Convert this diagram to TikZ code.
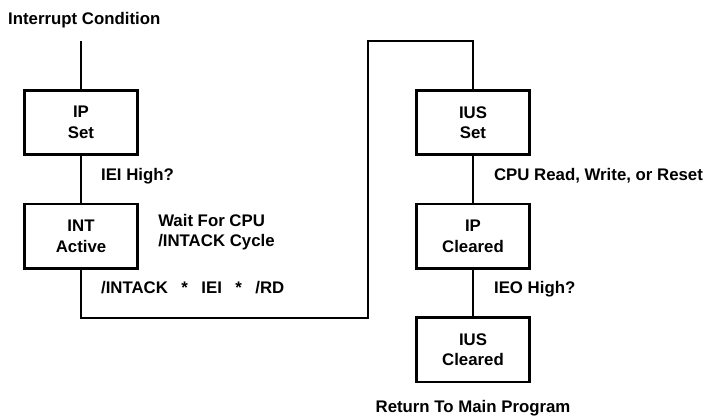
\documentclass[tikz,border=0pt]{standalone}
\usepackage{fontspec}
\setmainfont{Liberation Sans}
\usepackage{tikz}
\usetikzlibrary{positioning}

\begin{document}
\begin{tikzpicture}[
  x=1pt, y=1pt,
  node distance=46.5pt,
  font=\fontsize{16.8}{20.5}\selectfont\bfseries,
  box/.style={draw, line width=2.6pt, minimum width=113.5pt, minimum height=64.5pt,
              align=center, inner sep=2pt},
  lbl/.style={inner sep=0pt, align=left},
  tag/.style={lbl, anchor=west, xshift=19pt, yshift=3.5pt},
  wire/.style={line width=2.2pt}
]
\useasboundingbox (0,0) rectangle (712,417);

\node[lbl, anchor=west] (cond) at (8,397) {Interrupt Condition};

\node[box] (ips) at (81,294.5) {IP\\ Set};
\node[box, below=of ips] (int) {INT\\ Active};
\node[lbl, right=19pt of int, yshift=4pt] (wait) {Wait For CPU\\ /INTACK Cycle};

\node[box] (iusset) at (473,294.5) {IUS\\ Set};
\node[box, below=of iusset] (ipclr) {IP\\ Cleared};
\node[box, below=of ipclr] (iusclr) {IUS\\ Cleared};
\node[lbl, below=16.5pt of iusclr] (ret) {Return To Main Program};

\coordinate[above=48pt of ips.north] (entry);
\coordinate[below=48pt of int.south] (lowturn);
\coordinate[above=48pt of iusset.north] (highturn);

\draw[wire] (entry) -- (ips);
\draw[wire] (ips) -- node[tag] {IEI High?} (int);
\draw[wire] (int) -- node[tag, yshift=3pt]
  {/INTACK\hspace{.8em}*\hspace{.8em}IEI\hspace{.8em}*\hspace{.8em}/RD} (lowturn)
  -- ++(287,0) |- (highturn) -- (iusset);
\draw[wire] (iusset) -- node[tag, xshift=1pt] {CPU Read, Write, or Reset} (ipclr);
\draw[wire] (ipclr) -- node[tag, xshift=1pt] {IEO High?} (iusclr);
\end{tikzpicture}
\end{document}
